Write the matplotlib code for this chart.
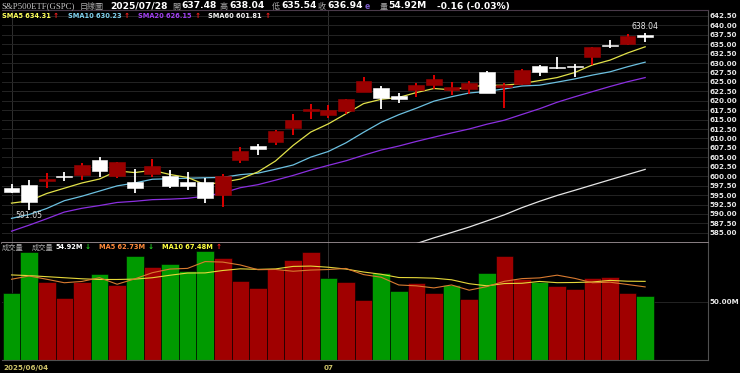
import matplotlib
matplotlib.use("Agg")
import matplotlib.pyplot as plt
import numpy as np

plt.rcParams["font.family"] = ["DejaVu Sans", "Noto Sans CJK TC"]

W, H = 740, 373

# ---- data (S&P500 ETF daily, 2025/06/04 - 2025/07/28) ----
dates = [
    "2025/06/04", "2025/06/05", "2025/06/06", "2025/06/09", "2025/06/10", "2025/06/11",
    "2025/06/12", "2025/06/13", "2025/06/16", "2025/06/17", "2025/06/18", "2025/06/20",
    "2025/06/23", "2025/06/24", "2025/06/25", "2025/06/26", "2025/06/27", "2025/06/30",
    "2025/07/01", "2025/07/02", "2025/07/03", "2025/07/07", "2025/07/08", "2025/07/09",
    "2025/07/10", "2025/07/11", "2025/07/14", "2025/07/15", "2025/07/16", "2025/07/17",
    "2025/07/18", "2025/07/21", "2025/07/22", "2025/07/23", "2025/07/24", "2025/07/25",
    "2025/07/28",
]
opens = [596.96, 597.63, 598.66, 599.72, 600.21, 604.18, 600.01, 598.50, 600.70, 600.10,
         598.40, 598.38, 595.04, 604.33, 607.91, 608.99, 612.88, 617.38, 616.36, 617.24,
         622.45, 623.36, 621.35, 622.77, 624.20, 622.74, 623.16, 627.52, 623.74, 624.40,
         629.30, 629.05, 629.10, 631.55, 634.60, 635.09, 637.48]
highs = [597.95, 599.00, 600.83, 601.25, 603.47, 605.06, 603.75, 601.85, 604.45, 601.60,
         601.00, 599.46, 600.54, 607.85, 608.61, 612.31, 616.39, 619.22, 618.83, 620.49,
         626.28, 624.03, 622.11, 624.72, 626.87, 624.86, 625.16, 627.86, 624.73, 628.40,
         629.47, 631.54, 629.74, 634.21, 636.15, 637.58, 638.04]
lows = [595.49, 591.05, 596.86, 598.64, 599.12, 599.85, 599.52, 595.48, 599.90, 596.80,
        596.30, 592.86, 591.89, 603.41, 605.54, 608.37, 610.83, 615.04, 615.52, 616.61,
        622.43, 617.87, 619.52, 620.91, 623.01, 621.53, 621.80, 622.06, 618.05, 624.18,
        626.46, 628.34, 626.40, 629.60, 633.99, 634.85, 635.54]
closes = [595.93, 593.05, 599.14, 599.68, 603.08, 601.36, 603.75, 597.00, 602.68, 597.53,
          597.44, 594.28, 600.15, 606.78, 607.12, 611.87, 614.91, 617.85, 617.65, 620.45,
          625.34, 620.68, 620.34, 624.06, 625.82, 623.62, 624.81, 622.14, 624.22, 628.04,
          627.58, 628.77, 628.86, 634.21, 634.42, 637.10, 636.94]
prev_close = 596.09

sma5 = [592.87, 593.47, 595.42, 596.82, 598.21, 599.26, 601.40, 600.97, 601.57, 600.46,
        599.68, 597.79, 598.42, 599.24, 601.15, 604.04, 608.17, 611.71, 613.88, 616.55,
        619.24, 620.39, 620.89, 622.17, 623.25, 622.90, 623.73, 624.09, 624.12, 624.57,
        625.36, 626.15, 627.49, 629.49, 630.77, 632.67, 634.31]
sma10 = [588.83, 589.85, 591.45, 593.51, 594.70, 596.07, 597.44, 598.20, 599.20, 599.34,
         599.47, 599.59, 599.70, 600.41, 600.81, 601.86, 602.98, 605.06, 606.56, 608.85,
         611.64, 614.28, 616.30, 618.03, 619.90, 621.07, 622.06, 622.49, 623.15, 623.91,
         624.13, 624.94, 625.79, 626.81, 627.67, 629.02, 630.23]
sma20 = [585.43, 587.03, 588.73, 590.50, 591.50, 592.23, 593.04, 593.36, 593.79, 593.92,
         594.15, 594.72, 595.57, 596.96, 597.76, 598.96, 600.21, 601.63, 602.88, 604.09,
         605.56, 606.94, 608.00, 609.22, 610.35, 611.47, 612.52, 613.78, 614.85, 616.38,
         617.89, 619.61, 621.05, 622.42, 623.78, 625.04, 626.15]
# SMA60 only enters the visible price range in July
sma60 = [np.nan] * 20 + [577.22, 579.29, 580.48, 582.14, 583.67, 585.08, 586.53, 588.14,
                         589.77, 591.67, 593.35, 594.90, 596.27, 597.67, 599.06, 600.44,
                         601.81]

volumes = [57.8, 92.4, 66.7, 53.5, 66.7, 73.8, 64.4, 89.5, 80.1, 82.4,
           76.7, 93.6, 87.3, 67.8, 62.1, 77.8, 85.8, 92.4, 70.1, 66.7,
           51.5, 74.4, 59.2, 66.4, 57.8, 64.1, 52.1, 74.4, 89.3, 69.3,
           67.2, 63.8, 60.7, 70.6, 71.5, 57.3, 54.92]
vol_ma5 = [69.3, 72.1, 69.3, 66.3, 67.42, 70.62, 65.02, 69.58, 74.9, 78.04,
           78.62, 84.46, 84.02, 81.56, 77.5, 77.72, 76.16, 77.18, 77.64, 78.56,
           73.3, 71.02, 64.38, 63.64, 61.86, 64.38, 59.92, 62.96, 67.54, 69.84,
           70.46, 72.8, 70.06, 66.32, 66.76, 64.78, 62.73]
vol_ma10 = [73.0, 72.4, 71.5, 70.6, 69.7, 69.1, 69.1, 69.4, 70.6, 72.73,
            74.62, 74.74, 76.8, 78.23, 77.77, 78.17, 80.31, 80.6, 79.6, 78.03,
            75.51, 73.59, 70.78, 70.64, 70.21, 68.84, 65.47, 63.67, 65.59, 65.85,
            67.42, 66.36, 66.51, 66.93, 68.3, 67.62, 67.48]

price_ticks = [585.0 + 2.5 * k for k in range(24)]

# ---- colours ----
BG = "#000000"
GRID = "#242424"
UP_BODY = "#990000"
UP_WICK = "#ee0000"
DOWN = "#ffffff"
VOL_UP = "#a00000"
VOL_DOWN = "#009a00"
C_SMA5, C_SMA10, C_SMA20, C_SMA60 = "#e2e24a", "#6cc0e0", "#8b2fe0", "#e6e6e6"
C_VMA5, C_VMA10 = "#d87a30", "#e6d83a"
C_DATE = "#cfc46a"

x = np.arange(len(dates))
o, h, l, c = map(np.asarray, (opens, highs, lows, closes))

fig = plt.figure(figsize=(W / 100, H / 100), dpi=100, facecolor=BG)


def px_axes(left, top, right, bottom):
    return fig.add_axes([left / W, 1 - bottom / H, (right - left) / W, (bottom - top) / H])


ax_p = px_axes(2, 10, 708, 243)
ax_v = px_axes(2, 243, 708, 360)

for ax in (ax_p, ax_v):
    ax.set_facecolor(BG)
    ax.set_xlim(-0.54, 39.57)
    ax.spines["left"].set_visible(False)
    ax.spines["right"].set_color("#505050")
    ax.tick_params(axis="x", bottom=False, labelbottom=False)
    ax.yaxis.tick_right()
    ax.tick_params(axis="y", length=0, pad=1.2, labelsize=5.1, labelcolor="#e6e6e6")
    for i, d in enumerate(dates):
        if i == 0 or d[5:7] != dates[i - 1][5:7]:
            ax.axvline(i, color="#303030", lw=0.7, zorder=0)

ax_p.spines["top"].set_color("#4a3a4a")
ax_p.spines["bottom"].set_color("#b0a2a8")
ax_p.spines["bottom"].set_linewidth(1.1)
ax_v.spines["top"].set_visible(False)
ax_v.spines["bottom"].set_color("#505050")

# ---- price panel ----
ax_p.set_ylim(582.30, 644.06)
ax_p.set_yticks(price_ticks)
ax_p.set_yticklabels([f"{v:.2f}" for v in price_ticks], fontweight="bold")
ax_p.grid(axis="y", color=GRID, lw=0.7, zorder=0)

up = c >= o
ax_p.vlines(x, l, h, colors=np.where(up, UP_WICK, DOWN), lw=1.3, zorder=3)
body_lo = np.minimum(o, c)
body_h = np.maximum(np.abs(c - o), 0.3)
body_col = np.where(up, UP_BODY, DOWN)
ax_p.bar(x, body_h, bottom=body_lo, width=0.9, color=body_col, edgecolor=body_col,
         lw=0.4, zorder=4)

ax_p.plot(x, sma60, color=C_SMA60, lw=0.9, zorder=2)
ax_p.plot(x, sma20, color=C_SMA20, lw=0.9, zorder=2)
ax_p.plot(x, sma10, color=C_SMA10, lw=0.9, zorder=2)
ax_p.plot(x, sma5, color=C_SMA5, lw=0.9, zorder=2)

i_lo = int(np.argmin(l))
i_hi = int(np.argmax(h))
ax_p.annotate(f"{l[i_lo]:.2f}", xy=(i_lo, l[i_lo]), xytext=(0, -6), textcoords="offset pixels",
              ha="center", va="center", fontsize=5.6, color="#d8d8d8", zorder=6)
ax_p.annotate(f"{h[i_hi]:.2f}", xy=(i_hi, h[i_hi]), xytext=(0, 6), textcoords="offset pixels",
              ha="center", va="center", fontsize=5.6, color="#e8e8e8", zorder=6)

# ---- volume panel ----
prev = np.concatenate([[prev_close], c[:-1]])
vol_col = np.where(c >= prev, VOL_UP, VOL_DOWN)
ax_v.bar(x, volumes, width=1.0, color=vol_col, edgecolor="#000000", lw=0.4, zorder=2)
ax_v.plot(x, vol_ma10, color=C_VMA10, lw=0.8, zorder=3)
ax_v.plot(x, vol_ma5, color=C_VMA5, lw=0.8, zorder=3)
ax_v.set_ylim(0, 100.4)
ax_v.set_yticks([50])
ax_v.set_yticklabels(["50.00M"], fontweight="bold")
ax_v.grid(axis="y", color=GRID, lw=0.7, zorder=0)


# ---- texts ----
def ftext(xp, yp, s, color, size=4.8, weight="bold", **kw):
    fig.text(xp / W, 1 - yp / H, s, color=color, fontsize=size, fontweight=weight,
             ha="left", va="center", **kw)


GRAY = "#a8a8a8"
ftext(1, 6, "S&P500ETF(GSPC)", "#c8c8c8", size=6.3, weight="normal", family="Liberation Serif")
ftext(80, 6, "日線圖", GRAY, size=5.8, weight="normal")
ftext(110, 6, dates[-1], "white", size=6.6)
head = [("開", opens[-1], 172), ("高", highs[-1], 220), ("低", lows[-1], 272),
        ("收", closes[-1], 318)]
for lab, val, xp in head:
    ftext(xp, 6, lab, GRAY, size=5.8, weight="normal")
    ftext(xp + 9, 6, f"{val:.2f}", "white", size=6.6)
ftext(365, 6.5, "e", "#7a5cc8", size=5.5)
ftext(380, 6, "量", GRAY, size=5.8, weight="normal")
ftext(388, 6, f"{volumes[-1]:.2f}M", "white", size=6.6)
chg = closes[-1] - closes[-2]
ftext(437, 6, f"{chg:.2f} ({chg / closes[-2] * 100:.2f}%)", "white", size=6.6)

sma_heads = [("SMA5", sma5[-1], "#ffff5a", 2, 53),
             ("SMA10", sma10[-1], "#7fd0ee", 68, 124),
             ("SMA20", sma20[-1], "#a040f0", 138, 195),
             ("SMA60", sma60[-1], "#f0f0f0", 208, 265)]
for name, val, tc, xp, xa in sma_heads:
    ftext(xp, 15.5, f"{name} {val:.2f}", tc)
    ftext(xa, 15.5, "↑", "#ff2020", size=5.2)

ftext(2, 247, "成交量", GRAY, size=5.2, weight="normal")
ftext(32, 247, "成交量", GRAY, size=5.2, weight="normal")
ftext(55, 247, f"{volumes[-1]:.2f}M", "white")
ftext(85, 247, "↓", "#20d020", size=5.2)
ftext(99, 247, f"MA5 {vol_ma5[-1]:.2f}M", "#ff8a3a")
ftext(148, 247, "↓", "#20d020", size=5.2)
ftext(162, 247, f"MA10 {vol_ma10[-1]:.2f}M", "#ffff40")
ftext(216, 247, "↑", "#ff2020", size=5.2)

# x labels
ftext(3, 368, dates[0], C_DATE, size=5.1)
for i, d in enumerate(dates):
    if i > 0 and d[5:7] != dates[i - 1][5:7]:
        xp = 11.5 + 17.6 * i
        fig.text(xp / W, 1 - 368 / H, d[5:7], color=C_DATE, fontsize=5.1,
                 fontweight="bold", ha="center", va="center")

fig.savefig("out.png", dpi=100, facecolor=BG)
plt.close(fig)
